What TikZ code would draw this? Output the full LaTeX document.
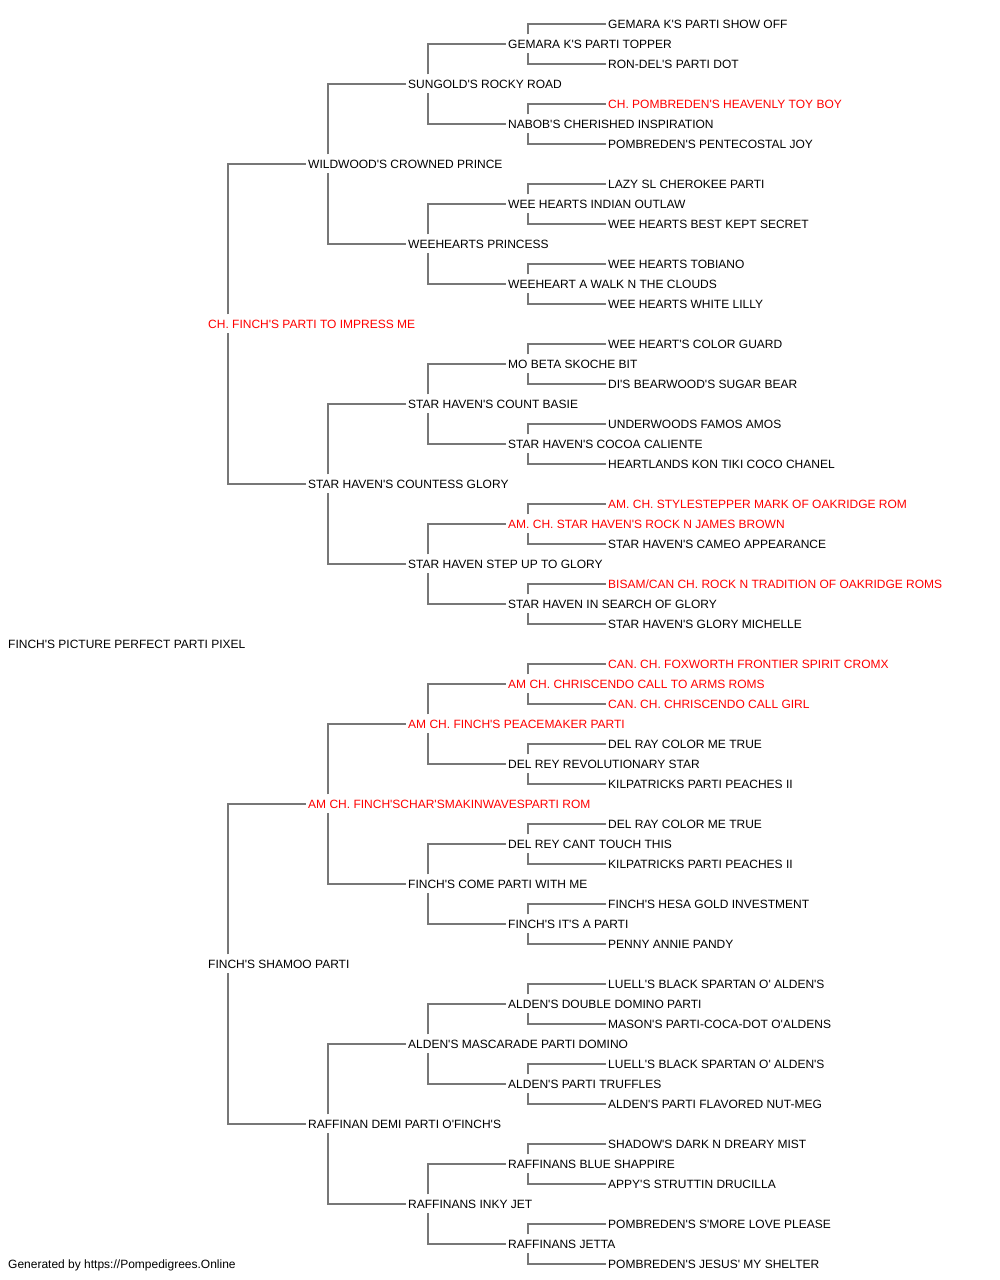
\documentclass[tikz,border=0pt]{standalone}
\usepackage{fontspec}
\setmainfont{Liberation Sans}[Ligatures=TeXOff]
\definecolor{pedline}{HTML}{777777}
\definecolor{titlered}{HTML}{FF0000}
\tikzset{
  dog/.style={anchor=west, inner xsep=2pt, inner ysep=5pt, text height=8.6pt,
    text depth=0pt, font=\fontsize{12}{14}\selectfont},
  titled/.style={dog, text=titlered},
  sire/.style={draw=pedline, line width=1.6pt}
}
\begin{document}
\begin{tikzpicture}[x=1pt,y=-1pt]
      \useasboundingbox (0,-0.8) rectangle (1000,1279.2);
      % generation 0 and 1
      \draw
        (6,643) node[dog] (1){FINCH'S PICTURE PERFECT PARTI PIXEL}
        (206,323) node[titled] (2){CH. FINCH'S PARTI TO IMPRESS ME}
        (206,963) node[dog] (3){FINCH'S SHAMOO PARTI};
      % generation 2
      \draw
        (306,163) node[dog] (4){WILDWOOD'S CROWNED PRINCE}
        (306,483) node[dog] (5){STAR HAVEN'S COUNTESS GLORY}
        (306,803) node[titled] (6){AM CH. FINCH'SCHAR'SMAKINWAVESPARTI ROM}
        (306,1123) node[dog] (7){RAFFINAN DEMI PARTI O'FINCH'S};
      % generation 3
      \draw
        (406,83) node[dog] (8){SUNGOLD'S ROCKY ROAD}
        (406,243) node[dog] (9){WEEHEARTS PRINCESS}
        (406,403) node[dog] (10){STAR HAVEN'S COUNT BASIE}
        (406,563) node[dog] (11){STAR HAVEN STEP UP TO GLORY}
        (406,723) node[titled] (12){AM CH. FINCH'S PEACEMAKER PARTI}
        (406,883) node[dog] (13){FINCH'S COME PARTI WITH ME}
        (406,1043) node[dog] (14){ALDEN'S MASCARADE PARTI DOMINO}
        (406,1203) node[dog] (15){RAFFINANS INKY JET};
      % generation 4
      \draw
        (506,43) node[dog] (16){GEMARA K'S PARTI TOPPER}
        (506,123) node[dog] (17){NABOB'S CHERISHED INSPIRATION}
        (506,203) node[dog] (18){WEE HEARTS INDIAN OUTLAW}
        (506,283) node[dog] (19){WEEHEART A WALK N THE CLOUDS}
        (506,363) node[dog] (20){MO BETA SKOCHE BIT}
        (506,443) node[dog] (21){STAR HAVEN'S COCOA CALIENTE}
        (506,523) node[titled] (22){AM. CH. STAR HAVEN'S ROCK N JAMES BROWN}
        (506,603) node[dog] (23){STAR HAVEN IN SEARCH OF GLORY}
        (506,683) node[titled] (24){AM CH. CHRISCENDO CALL TO ARMS ROMS}
        (506,763) node[dog] (25){DEL REY REVOLUTIONARY STAR}
        (506,843) node[dog] (26){DEL REY CANT TOUCH THIS}
        (506,923) node[dog] (27){FINCH'S IT'S A PARTI}
        (506,1003) node[dog] (28){ALDEN'S DOUBLE DOMINO PARTI}
        (506,1083) node[dog] (29){ALDEN'S PARTI TRUFFLES}
        (506,1163) node[dog] (30){RAFFINANS BLUE SHAPPIRE}
        (506,1243) node[dog] (31){RAFFINANS JETTA};
      % generation 5
      \draw
        (606,23) node[dog] (32){GEMARA K'S PARTI SHOW OFF}
        (606,63) node[dog] (33){RON-DEL'S PARTI DOT}
        (606,103) node[titled] (34){CH. POMBREDEN'S HEAVENLY TOY BOY}
        (606,143) node[dog] (35){POMBREDEN'S PENTECOSTAL JOY}
        (606,183) node[dog] (36){LAZY SL CHEROKEE PARTI}
        (606,223) node[dog] (37){WEE HEARTS BEST KEPT SECRET}
        (606,263) node[dog] (38){WEE HEARTS TOBIANO}
        (606,303) node[dog] (39){WEE HEARTS WHITE LILLY}
        (606,343) node[dog] (40){WEE HEART'S COLOR GUARD}
        (606,383) node[dog] (41){DI'S BEARWOOD'S SUGAR BEAR}
        (606,423) node[dog] (42){UNDERWOODS FAMOS AMOS}
        (606,463) node[dog] (43){HEARTLANDS KON TIKI COCO CHANEL}
        (606,503) node[titled] (44){AM. CH. STYLESTEPPER MARK OF OAKRIDGE ROM}
        (606,543) node[dog] (45){STAR HAVEN'S CAMEO APPEARANCE}
        (606,583) node[titled] (46){BISAM/CAN CH. ROCK N TRADITION OF OAKRIDGE ROMS}
        (606,623) node[dog] (47){STAR HAVEN'S GLORY MICHELLE}
        (606,663) node[titled] (48){CAN. CH. FOXWORTH FRONTIER SPIRIT CROMX}
        (606,703) node[titled] (49){CAN. CH. CHRISCENDO CALL GIRL}
        (606,743) node[dog] (50){DEL RAY COLOR ME TRUE}
        (606,783) node[dog] (51){KILPATRICKS PARTI PEACHES II}
        (606,823) node[dog] (52){DEL RAY COLOR ME TRUE}
        (606,863) node[dog] (53){KILPATRICKS PARTI PEACHES II}
        (606,903) node[dog] (54){FINCH'S HESA GOLD INVESTMENT}
        (606,943) node[dog] (55){PENNY ANNIE PANDY}
        (606,983) node[dog] (56){LUELL'S BLACK SPARTAN O' ALDEN'S}
        (606,1023) node[dog] (57){MASON'S PARTI-COCA-DOT O'ALDENS}
        (606,1063) node[dog] (58){LUELL'S BLACK SPARTAN O' ALDEN'S}
        (606,1103) node[dog] (59){ALDEN'S PARTI FLAVORED NUT-MEG}
        (606,1143) node[dog] (60){SHADOW'S DARK N DREARY MIST}
        (606,1183) node[dog] (61){APPY'S STRUTTIN DRUCILLA}
        (606,1223) node[dog] (62){POMBREDEN'S S'MORE LOVE PLEASE}
        (606,1263) node[dog] (63){POMBREDEN'S JESUS' MY SHELTER};
      \node[dog] (footer) at (6,1263) {Generated by https://Pompedigrees.Online};
      \begin{scope}[sire]
        \draw ([xshift=22pt]2.north west) |- (4.west);
        \draw ([xshift=22pt]2.south west) |- (5.west);
        \draw ([xshift=22pt]3.north west) |- (6.west);
        \draw ([xshift=22pt]3.south west) |- (7.west);
        \draw ([xshift=22pt]4.north west) |- (8.west);
        \draw ([xshift=22pt]4.south west) |- (9.west);
        \draw ([xshift=22pt]5.north west) |- (10.west);
        \draw ([xshift=22pt]5.south west) |- (11.west);
        \draw ([xshift=22pt]6.north west) |- (12.west);
        \draw ([xshift=22pt]6.south west) |- (13.west);
        \draw ([xshift=22pt]7.north west) |- (14.west);
        \draw ([xshift=22pt]7.south west) |- (15.west);
        \draw ([xshift=22pt]8.north west) |- (16.west);
        \draw ([xshift=22pt]8.south west) |- (17.west);
        \draw ([xshift=22pt]9.north west) |- (18.west);
        \draw ([xshift=22pt]9.south west) |- (19.west);
        \draw ([xshift=22pt]10.north west) |- (20.west);
        \draw ([xshift=22pt]10.south west) |- (21.west);
        \draw ([xshift=22pt]11.north west) |- (22.west);
        \draw ([xshift=22pt]11.south west) |- (23.west);
        \draw ([xshift=22pt]12.north west) |- (24.west);
        \draw ([xshift=22pt]12.south west) |- (25.west);
        \draw ([xshift=22pt]13.north west) |- (26.west);
        \draw ([xshift=22pt]13.south west) |- (27.west);
        \draw ([xshift=22pt]14.north west) |- (28.west);
        \draw ([xshift=22pt]14.south west) |- (29.west);
        \draw ([xshift=22pt]15.north west) |- (30.west);
        \draw ([xshift=22pt]15.south west) |- (31.west);
        \draw ([xshift=22pt]16.north west) |- (32.west);
        \draw ([xshift=22pt]16.south west) |- (33.west);
        \draw ([xshift=22pt]17.north west) |- (34.west);
        \draw ([xshift=22pt]17.south west) |- (35.west);
        \draw ([xshift=22pt]18.north west) |- (36.west);
        \draw ([xshift=22pt]18.south west) |- (37.west);
        \draw ([xshift=22pt]19.north west) |- (38.west);
        \draw ([xshift=22pt]19.south west) |- (39.west);
        \draw ([xshift=22pt]20.north west) |- (40.west);
        \draw ([xshift=22pt]20.south west) |- (41.west);
        \draw ([xshift=22pt]21.north west) |- (42.west);
        \draw ([xshift=22pt]21.south west) |- (43.west);
        \draw ([xshift=22pt]22.north west) |- (44.west);
        \draw ([xshift=22pt]22.south west) |- (45.west);
        \draw ([xshift=22pt]23.north west) |- (46.west);
        \draw ([xshift=22pt]23.south west) |- (47.west);
        \draw ([xshift=22pt]24.north west) |- (48.west);
        \draw ([xshift=22pt]24.south west) |- (49.west);
        \draw ([xshift=22pt]25.north west) |- (50.west);
        \draw ([xshift=22pt]25.south west) |- (51.west);
        \draw ([xshift=22pt]26.north west) |- (52.west);
        \draw ([xshift=22pt]26.south west) |- (53.west);
        \draw ([xshift=22pt]27.north west) |- (54.west);
        \draw ([xshift=22pt]27.south west) |- (55.west);
        \draw ([xshift=22pt]28.north west) |- (56.west);
        \draw ([xshift=22pt]28.south west) |- (57.west);
        \draw ([xshift=22pt]29.north west) |- (58.west);
        \draw ([xshift=22pt]29.south west) |- (59.west);
        \draw ([xshift=22pt]30.north west) |- (60.west);
        \draw ([xshift=22pt]30.south west) |- (61.west);
        \draw ([xshift=22pt]31.north west) |- (62.west);
        \draw ([xshift=22pt]31.south west) |- (63.west);
      \end{scope}
    \end{tikzpicture}
\end{document}
